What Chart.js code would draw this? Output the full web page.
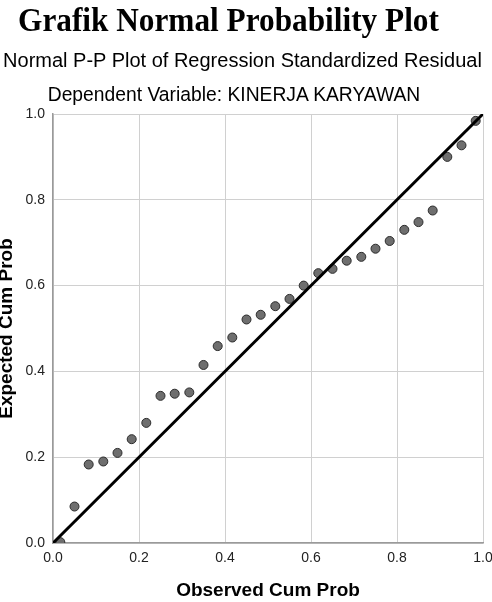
<!DOCTYPE html>
<html>
<head>
<meta charset="utf-8">
<script src="https://cdn.jsdelivr.net/npm/chart.js@4/dist/chart.umd.min.js"></script>
<style>
  body { margin: 0; background: #fff; }
  #wrap { position: relative; width: 492px; height: 602px; overflow: hidden; }
  #pp-chart { position: absolute; left: 0; top: 0; }
  .ttl { position: absolute; left: 0; white-space: nowrap; text-align: center; color: #000; }
  #main-title { top: 2px; width: 452px; font: bold 34px 'Liberation Serif', 'Times New Roman', serif; line-height: 36px; transform: scaleX(0.92); }
  #sub-1 { top: 48px; width: 485px; font: 20px 'Liberation Sans', Arial, sans-serif; line-height: 24px; }
  #sub-2 { top: 83px; width: 468px; font: 19.3px 'Liberation Sans', Arial, sans-serif; line-height: 23px; }
</style>
</head>
<body>
<div id="wrap">
  <canvas id="pp-chart" width="492" height="602"></canvas>
  <div class="ttl" id="main-title">Grafik Normal Probability Plot</div>
  <div class="ttl" id="sub-1">Normal P-P Plot of Regression Standardized Residual</div>
  <div class="ttl" id="sub-2">Dependent Variable: KINERJA KARYAWAN</div>
</div>
<script>
// Observed vs expected cumulative probability
const observedCumProb = [0.017, 0.05, 0.083, 0.117, 0.15, 0.183, 0.217, 0.25, 0.283, 0.317,
    0.35, 0.383, 0.417, 0.45, 0.483, 0.517, 0.55, 0.583, 0.617, 0.65,
    0.683, 0.717, 0.75, 0.783, 0.817, 0.85, 0.883, 0.917, 0.95, 0.983];
const expectedCumProb = [0.002, 0.085, 0.183, 0.19, 0.21, 0.242, 0.28, 0.343, 0.348, 0.351,
    0.415, 0.459, 0.479, 0.521, 0.532, 0.552, 0.569, 0.6, 0.629, 0.639,
    0.658, 0.667, 0.686, 0.704, 0.73, 0.748, 0.775, 0.9, 0.927, 0.984];

// Reference diagonal
const refLineX = [0, 1];
const refLineY = [0, 1];

const axisTicks = [0, 0.2, 0.4, 0.6, 0.8, 1.0];

const fontFamily = "'Liberation Sans', Arial, sans-serif";

const points = observedCumProb.map((x, i) => ({ x: x, y: expectedCumProb[i] }));
const diagonal = refLineX.map((x, i) => ({ x: x, y: refLineY[i] }));

new Chart(document.getElementById('pp-chart'), {
    type: 'scatter',
    data: {
        datasets: [
            {
                label: 'Diagonal',
                data: diagonal,
                showLine: true,
                borderColor: '#000',
                borderWidth: 3,
                pointRadius: 0,
                fill: false
            },
            {
                label: 'Residual',
                data: points,
                pointRadius: 4.5,
                pointBackgroundColor: '#6e6e6e',
                pointBorderColor: '#2b2b2b',
                pointBorderWidth: 1
            }
        ]
    },
    options: {
        responsive: false,
        animation: false,
        devicePixelRatio: 1,
        layout: {
            padding: { top: 114, right: 9, left: 0, bottom: 0 }
        },
        plugins: {
            legend: { display: false },
            tooltip: { enabled: false }
        },
        scales: {
            x: {
                type: 'linear',
                min: 0,
                max: 1,
                afterBuildTicks: s => { s.ticks = axisTicks.map(v => ({ value: v })); },
                afterFit: s => {
                    s.height = 59;
                    s.paddingRight = 9;
                    s.paddingLeft = 0;
                },
                ticks: {
                    padding: 6.5,
                    color: '#222',
                    font: { family: fontFamily, size: 14 },
                    callback: v => v.toFixed(1)
                },
                grid: { color: '#d0d0d0', lineWidth: 1, drawTicks: false },
                border: { color: '#9a9a9a', width: 1.5 },
                title: {
                    display: true,
                    text: 'Observed Cum Prob',
                    color: '#000',
                    font: { family: fontFamily, size: 19, weight: 'bold', lineHeight: 1.2 },
                    padding: { top: 0, bottom: 0 }
                }
            },
            y: {
                type: 'linear',
                min: 0,
                max: 1,
                afterBuildTicks: s => { s.ticks = axisTicks.map(v => ({ value: v })); },
                afterFit: s => { s.width = 53; },
                ticks: {
                    padding: 8,
                    color: '#222',
                    font: { family: fontFamily, size: 14 },
                    callback: v => v.toFixed(1)
                },
                grid: { color: '#d0d0d0', lineWidth: 1, drawTicks: false },
                border: { color: '#9a9a9a', width: 1.5 },
                title: {
                    display: true,
                    text: 'Expected Cum Prob',
                    color: '#000',
                    font: { family: fontFamily, size: 19, weight: 'bold', lineHeight: 1.2 },
                    padding: { top: -5, bottom: 0 }
                }
            }
        }
    }
});
</script>
</body>
</html>
